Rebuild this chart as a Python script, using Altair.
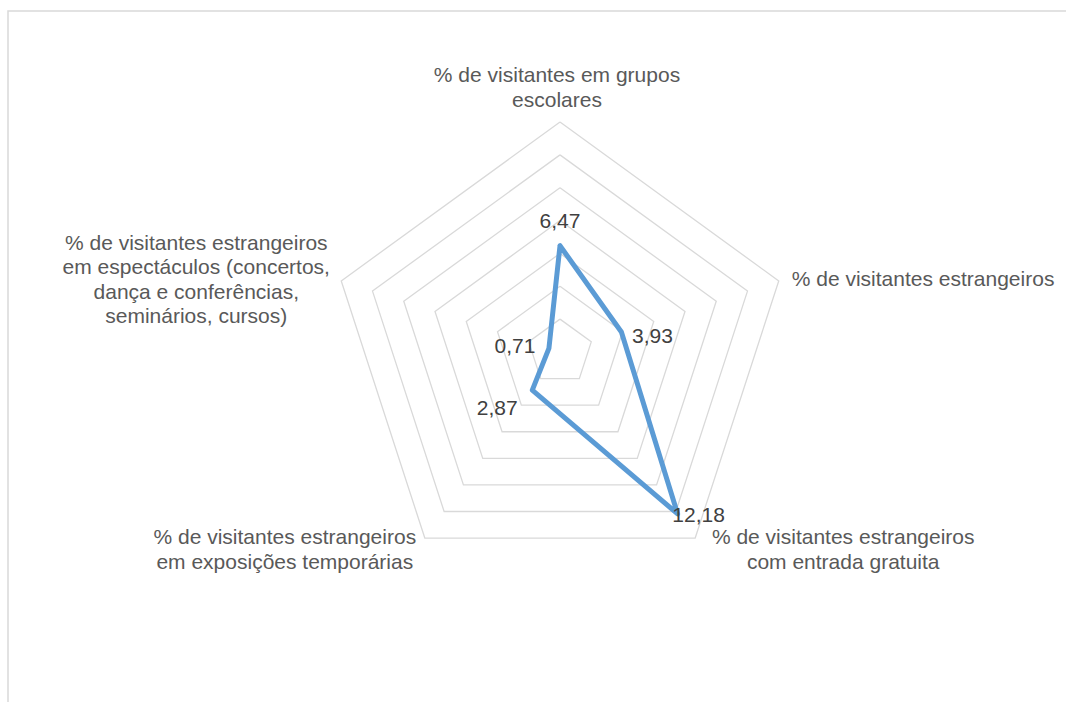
import altair as alt
import pandas as pd

# ---- data ----
categories = [
    "% de visitantes em grupos\nescolares",
    "% de visitantes estrangeiros",
    "% de visitantes estrangeiros\ncom entrada gratuita",
    "% de visitantes estrangeiros\nem exposições temporárias",
    "% de visitantes estrangeiros\nem espectáculos (concertos,\ndança e conferências,\nseminários, cursos)",
]
values = [6.47, 3.93, 12.18, 2.87, 0.71]
grid_levels = [2, 4, 6, 8, 10, 12, 14]

# ---- layout / style ----
W, H = 1066, 702
CX, CY = 560, 352          # pixel centre of the radar
R_PX = 230                 # pixel radius of the outermost ring
AXIS_MAX = grid_levels[-1]
U = R_PX / AXIS_MAX        # pixels per data unit
XDOM = [-CX / U, (W - CX) / U]
YDOM = [-(H - CY) / U, CY / U]
N = len(categories)
FONT = "Liberation Sans"

series = pd.DataFrame({
    "idx": [i % N for i in range(N + 1)],
    "order": list(range(N + 1)),
    "value": [values[i % N] for i in range(N + 1)],
})
points = pd.DataFrame({"idx": list(range(N)), "value": values})
grid = pd.DataFrame([
    {"level": lv, "k": k, "idx": k % N, "value": lv}
    for lv in grid_levels for k in range(N + 1)
])
cats = pd.DataFrame({"idx": list(range(N)), "label": categories, "value": [AXIS_MAX] * N})

xs = alt.Scale(domain=XDOM, nice=False, zero=False)
ys = alt.Scale(domain=YDOM, nice=False, zero=False)


def polar(ch):
    return ch.transform_calculate(
        ang=f"datum.idx * 2 * PI / {N}"
    ).transform_calculate(
        px="datum.value * sin(datum.ang)",
        py="datum.value * cos(datum.ang)",
    )


X = alt.X("px:Q", scale=xs, axis=None)
Y = alt.Y("py:Q", scale=ys, axis=None)

frame = alt.Chart(pd.DataFrame({"a": [0]})).mark_rect(
    fill=None, stroke="#D9D9D9", strokeWidth=1.5
).encode(x=alt.value(8), y=alt.value(11), x2=alt.value(W + 20), y2=alt.value(H + 20))

rings = polar(alt.Chart(grid)).mark_line(color="#D9D9D9", strokeWidth=1.3).encode(
    x=X, y=Y, detail="level:N", order="k:Q"
)

line = polar(alt.Chart(series)).mark_line(
    color="#5B9BD5", strokeWidth=5, strokeJoin="round", strokeCap="round"
).encode(x=X, y=Y, order="order:Q")

# data label offsets (dx, dy) per axis
lab_off = [(0, -24), (31, 5), (21, 2), (-35, 19), (-34, -1)]
data_labels = []
for i, (dx, dy) in enumerate(lab_off):
    data_labels.append(
        polar(alt.Chart(points)).transform_filter(f"datum.idx == {i}").transform_calculate(
            txt="replace(format(datum.value, '.2f'), '.', ',')"
        ).mark_text(font=FONT, fontSize=21, color="#404040", dx=dx, dy=dy,
                    align="center", baseline="middle").encode(x=X, y=Y, text="txt:N")
    )

# category label placement (align, dx, dy of the first line)
cat_off = [("center", -3, -46), ("left", 13, -1), ("center", 148, 0),
           ("center", -140, 0), ("center", -145, -37)]
cat_labels = []
for i, (al, dx, dy) in enumerate(cat_off):
    cat_labels.append(
        polar(alt.Chart(cats)).transform_filter(f"datum.idx == {i}").mark_text(
            font=FONT, fontSize=21, color="#595959", align=al, baseline="middle",
            dx=dx, dy=dy, lineBreak="\n", lineHeight=24.5
        ).encode(x=X, y=Y, text="label:N")
    )

chart = alt.layer(frame, rings, line, *data_labels, *cat_labels).properties(
    width=W, height=H, padding=0, autosize=alt.AutoSizeParams(type="none"),
    background="white"
).configure_view(stroke=None)

chart.save("out.html", embed_options={"renderer": "svg", "actions": False})
